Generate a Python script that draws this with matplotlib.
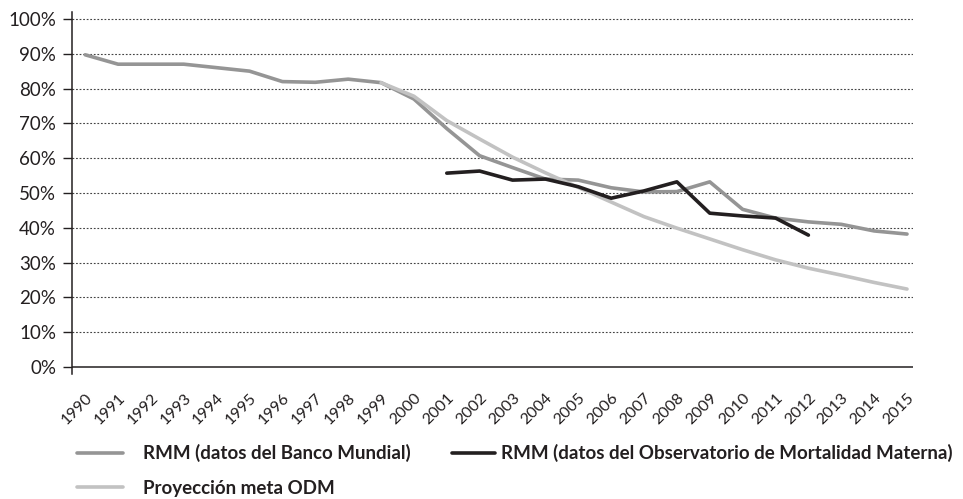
import matplotlib

matplotlib.use("Agg")
import matplotlib.pyplot as plt
from matplotlib.ticker import FuncFormatter

years = [str(y) for y in range(1990, 2016)]

# RMM, datos del Banco Mundial
rmm_banco_mundial = [
    89.7, 87.0, 87.0, 87.0, 86.0, 85.0, 82.0, 81.8, 82.7, 81.7,
    77.0, 68.5, 60.7, 57.3, 54.0, 53.7, 51.5, 50.3, 50.4, 53.2,
    45.3, 42.8, 41.7, 41.0, 39.1, 38.2,
]

# RMM, datos del Observatorio de Mortalidad Materna (2001-2012)
obs_years = [str(y) for y in range(2001, 2013)]
rmm_observatorio = [
    55.7, 56.3, 53.7, 54.0, 51.8, 48.5, 50.6, 53.2, 44.2, 43.4,
    42.8, 37.9,
]

# Proyeccion meta ODM (1999-2015)
proy_years = [str(y) for y in range(1999, 2016)]
proyeccion_odm = [
    81.7, 77.8, 70.8, 65.5, 60.3, 55.8, 51.6, 47.4, 43.2, 39.9,
    36.8, 33.7, 30.8, 28.4, 26.4, 24.3, 22.4,
]

series_labels = [
    "RMM (datos del Banco Mundial)",
    "RMM (datos del Observatorio de Mortalidad Materna)",
    "Proyección meta ODM",
]

GRAY = "#959595"
BLACK = "#231f20"
LIGHT = "#c2c2c2"

plt.rcParams["font.family"] = ["Lato", "DejaVu Sans"]

fig = plt.figure(figsize=(9.63, 4.99), dpi=100)
ax = fig.add_axes([0.0748, 0.2505, 0.8732, 0.7255])

idx = {y: i for i, y in enumerate(years)}

line_wb, = ax.plot(
    [idx[y] for y in years], rmm_banco_mundial,
    color=GRAY, lw=2.6, solid_capstyle="round", zorder=3,
)
line_proy, = ax.plot(
    [idx[y] for y in proy_years], proyeccion_odm,
    color=LIGHT, lw=2.6, solid_capstyle="round", zorder=4,
)
line_obs, = ax.plot(
    [idx[y] for y in obs_years], rmm_observatorio,
    color=BLACK, lw=2.6, solid_capstyle="round", zorder=5,
)

ax.set_xlim(-0.4, 25.18)
ax.set_ylim(-2, 102)

# dotted grid lines plus a solid baseline at 0%
for v in range(10, 101, 10):
    ax.axhline(v, color="#444444", lw=0.8, ls=(0, (1.6, 1.6)), zorder=1)
ax.axhline(0, color="#231f20", lw=1.1, zorder=2)

ax.set_yticks(range(0, 101, 10))
ax.yaxis.set_major_formatter(FuncFormatter(lambda v, _: f"{v:.0f}%"))
ax.tick_params(axis="y", direction="out", length=6.5, width=1.0,
               color="#231f20", labelsize=13.5, labelcolor="#231f20", pad=5)

ax.set_xticks(range(len(years)))
ax.set_xticklabels(years, rotation=45, ha="right", va="top",
                   rotation_mode="anchor", fontsize=11.5, color="#231f20")
ax.tick_params(axis="x", length=0, pad=12)

for side in ("top", "right", "bottom"):
    ax.spines[side].set_visible(False)
ax.spines["left"].set_color("#231f20")
ax.spines["left"].set_linewidth(1.1)

legend_font = {"family": ["Lato", "DejaVu Sans"], "weight": "bold", "size": 13.5}
leg1 = fig.legend(
    [line_wb, line_proy],
    [series_labels[0], series_labels[2]],
    loc="upper left",
    bbox_to_anchor=(0.080, 0.110),
    frameon=False,
    borderpad=0,
    borderaxespad=0,
    handlelength=2.45,
    handletextpad=1.05,
    labelspacing=0.95,
    prop=legend_font,
)
leg2 = fig.legend(
    [line_obs],
    [series_labels[1]],
    loc="upper left",
    bbox_to_anchor=(0.469, 0.110),
    frameon=False,
    borderpad=0,
    borderaxespad=0,
    handlelength=2.3,
    handletextpad=0.35,
    prop=legend_font,
)
for leg in (leg1, leg2):
    for text in leg.get_texts():
        text.set_color("#231f20")

fig.savefig("out.png", dpi=100)
